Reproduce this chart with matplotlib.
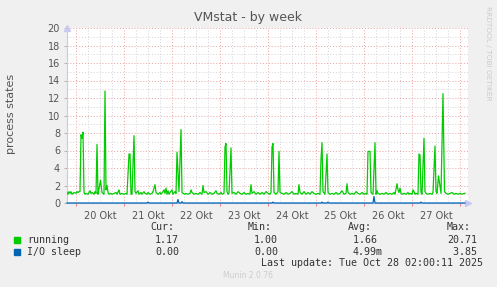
import matplotlib
matplotlib.use("Agg")
import matplotlib.pyplot as plt

# hours since 20 Okt 00:00
run_t = [-4.5, -4, -3.5, -3, -2.5, -2, -1, 0, 0.5, 1, 1.5, 2,
         2.5, 3, 3.5, 4, 4.5, 5, 6, 7, 7.5, 8, 9, 9.5, 10,
         10.5, 11, 11.5, 12.25, 13, 13.5, 14,
         14.5, 15, 15.5, 16, 16.5, 17.5, 18, 19, 20, 20.5, 21.5, 22, 23, 24, 25, 25.5,
         26.5, 27, 27.5, 28, 29, 29.5,
         30, 31, 31.5, 32.5, 33, 34, 34.5, 35.5, 36, 37, 38, 38.5,
         39.5, 40, 41, 42, 42.5, 43.5, 44, 44.5, 45, 45.5, 46, 46.5, 47, 48, 48.5, 49.5, 50,
         50.5, 51.5, 52.5, 53,
         53.5, 54.5, 55, 56, 57, 57.5, 58, 59, 60, 61, 62, 63,
         63.5, 64, 65, 66, 67, 68, 69, 70, 70.5, 71.5, 72.5, 73,
         74, 74.5, 75, 75.5, 76, 76.5, 77.5, 78,
         79, 80, 81, 82, 83, 84, 85, 86, 87, 87.5, 88, 89, 90, 91, 92, 93, 94, 95, 96, 97, 97.5,
         98, 98.5, 99, 100, 101, 101.5, 102,
         103, 104, 105, 106, 107, 108, 109, 110, 111, 111.5, 112, 113, 114, 115, 116, 117, 118,
         119, 120, 121, 122,
         122.5, 123, 123.5, 124.5, 125.5, 126,
         127, 128, 129, 130, 131, 132, 133, 134, 135, 135.5, 136, 137, 138, 139, 140, 141, 142,
         143, 144, 145, 145.5,
         146, 147, 147.5, 148.5, 149.5, 150,
         150.5, 151, 152, 153, 154, 155, 156, 157, 158, 159, 159.5, 160.5, 161, 161.5, 162, 162.5,
         163, 164, 165, 166, 166.5, 167, 168, 168.5, 169, 169.5, 170, 171,
         171.5, 172, 172.5, 173, 174, 174.5, 175, 176, 177, 178, 178.5, 179.5, 180, 180.5,
         181.25, 182.5, 183.5, 184.25,
         185, 186, 187, 188, 189, 190, 191, 192, 193, 194, 194.5]
run_v = [1.2, 1.0, 1.3, 1.1, 1.3, 1.0, 1.2, 1.1, 1.3, 1.2, 1.3, 1.3,
         7.8, 7.4, 8.1, 1.2, 1.0, 1.1, 1.0, 1.4, 1.1, 1.2, 1.0, 1.3, 1.1,
         6.7, 1.0, 1.6, 2.6, 1.2, 1.1, 1.0,
         12.8, 1.5, 2.0, 1.2, 1.0, 1.1, 1.0, 1.1, 1.2, 1.0, 1.5, 1.0, 1.1, 1.0, 1.1, 1.0,
         5.6, 5.6, 1.0, 1.0, 7.7, 1.3,
         1.1, 1.4, 1.0, 1.2, 1.0, 1.3, 1.1, 1.0, 1.2, 1.0, 1.1, 1.3,
         2.1, 1.2, 1.0, 1.2, 1.0, 1.3, 1.5, 1.1, 1.7, 1.0, 1.4, 1.0, 1.2, 1.5, 1.0, 1.3, 1.1,
         5.8, 1.3, 8.4, 1.2,
         1.1, 1.0, 1.1, 1.0, 1.1, 1.5, 1.2, 1.0, 1.1, 1.0, 1.2, 1.0,
         2.0, 1.2, 1.3, 1.0, 1.2, 1.0, 1.1, 1.4, 1.1, 1.0, 1.2, 1.0,
         1.1, 6.4, 6.8, 1.3, 1.0, 1.1, 6.3, 1.1,
         1.2, 1.0, 1.3, 1.1, 1.0, 1.2, 1.0, 1.1, 1.0, 2.1, 1.1, 1.3, 1.0, 1.2, 1.0, 1.2, 1.0, 1.3, 1.1, 1.0, 1.2,
         6.4, 6.8, 1.2, 1.0, 1.3, 5.9, 1.2,
         1.1, 1.0, 1.2, 1.0, 1.1, 1.3, 1.0, 1.1, 1.0, 2.1, 1.2, 1.0, 1.3, 1.0, 1.2, 1.0, 1.3,
         1.1, 1.0, 1.1, 1.0,
         5.0, 6.9, 1.3, 1.0, 5.6, 1.2,
         1.0, 1.1, 1.0, 1.2, 1.0, 1.1, 1.4, 1.0, 1.1, 2.2, 1.2, 1.0, 1.1, 1.0, 1.3, 1.1, 1.0,
         1.2, 1.0, 1.1, 1.0,
         5.9, 5.9, 1.2, 1.0, 6.9, 1.0,
         1.4, 1.1, 1.0, 1.1, 1.0, 1.2, 1.0, 1.1, 1.0, 1.2, 1.0, 2.2, 1.5, 1.2, 1.7, 1.1,
         1.0, 1.1, 1.0, 1.2, 1.0, 1.1, 1.0, 1.5, 1.3, 1.0, 1.1, 1.0,
         5.6, 5.5, 1.2, 1.0, 7.4, 1.3, 1.1, 1.0, 1.1, 1.0, 1.2, 6.5, 1.3, 1.1,
         3.1, 1.1, 12.5, 1.3,
         1.1, 1.0, 1.1, 1.2, 1.0, 1.1, 1.0, 1.1, 1.0, 1.1, 1.1]

io_t = [-4.5, 35.5, 36, 36.5, 50.5, 51, 51.5, 52.5, 53, 53.5, 98, 98.5, 99,
        122.5, 123, 123.5, 125.5, 126, 126.5, 148.5, 149, 149.5, 172, 172.5, 173, 194.5]
io_v = [0, 0, 0.1, 0, 0, 0.4, 0, 0, 0.15, 0, 0, 0.1, 0,
        0, 0.1, 0, 0, 0.1, 0, 0, 0.75, 0, 0, 0.1, 0, 0]

day_pos = [12, 36, 60, 84, 108, 132, 156, 180]
day_labels = ["20 Okt", "21 Okt", "22 Okt", "23 Okt", "24 Okt", "25 Okt", "26 Okt", "27 Okt"]

legend_names = ["running", "I/O sleep"]
legend_colors = ["#00CC00", "#0066B3"]
cur = ["1.17", "0.00"]
mins = ["1.00", "0.00"]
avgs = ["1.66 ", "4.99m"]
maxs = ["20.71", " 3.85"]

fig = plt.figure(figsize=(4.97, 2.87), dpi=100, facecolor="#F0F0F0")
ax = fig.add_axes([67 / 497, 84 / 287, 401 / 497, 175 / 287])
ax.set_facecolor("white")
ax.set_xlim(-4.5, 196)
ax.set_ylim(0, 20)

# grid
for h in range(-0, 197, 6):
    if h % 24 == 0:
        ax.axvline(h, color="#EBA0A0", ls=(0, (1, 2)), lw=0.7, zorder=1)
    else:
        ax.axvline(h, color="#D4D4D4", ls=(0, (1, 2)), lw=0.7, zorder=1)
for v in range(1, 21):
    if v % 2 == 0:
        ax.axhline(v, color="#EBA0A0", ls=(0, (1, 2)), lw=0.7, zorder=1)
    else:
        ax.axhline(v, color="#D4D4D4", ls=(0, (1, 2)), lw=0.7, zorder=1)

ax.plot(run_t, run_v, color=legend_colors[0], lw=0.9, zorder=3)
ax.plot(io_t, io_v, color=legend_colors[1], lw=0.9, zorder=4, clip_on=False)

ax.set_xticks(day_pos)
ax.set_xticklabels(day_labels)
ax.set_xticks([0, 24, 48, 72, 96, 120, 144, 168, 192], minor=True)
ax.set_yticks(range(0, 21, 2))
ax.tick_params(axis="x", length=0, pad=6, labelsize=7, labelcolor="#555555")
ax.tick_params(axis="x", which="minor", length=2, width=0.7, color="#E88080")
ax.tick_params(axis="y", length=2, width=0.6, color="#AAAAAA", pad=3, labelsize=7, labelcolor="#555555")
for s in ["top", "right"]:
    ax.spines[s].set_visible(False)
ax.spines["left"].set_color("#C8C8F0")
ax.spines["bottom"].set_color("#C8C8F0")
ax.spines["left"].set_linewidth(0.8)
ax.spines["bottom"].set_linewidth(0.8)
ax.plot([0], [1.0], marker="^", ms=4, color="#C8C8F0", transform=ax.transAxes, clip_on=False)
ax.plot([1.0], [0], marker=">", ms=4, color="#C8C8F0", transform=ax.transAxes, clip_on=False)

fig.text(248 / 497, 1 - 17 / 287, "VMstat - by week", ha="center", va="center", fontsize=9, color="#555555")
fig.text(11 / 497, 1 - 114 / 287, "process states", rotation=90, ha="center", va="center",
         fontsize=8, color="#555555")
fig.text(488 / 497, 1 - 53 / 287, "RRDTOOL / TOBI OETIKER", rotation=270, ha="center", va="center",
         fontsize=5.3, color="#CCCCCC")

mono = "DejaVu Sans Mono"
fs = 7.2
tc = "#333333"
for x, lab in [(150, "Cur:"), (248, "Min:"), (348, "Avg:"), (447, "Max:")]:
    fig.text(x / 497, 1 - 227 / 287, lab, family=mono, fontsize=fs, color=tc, va="center")
for i, name in enumerate(legend_names):
    y = 1 - (240 + 12 * i) / 287
    fig.patches.append(plt.Rectangle((14 / 497, y - 3 / 287), 6 / 497, 6 / 287,
                                     transform=fig.transFigure, color=legend_colors[i]))
    fig.text(27 / 497, y, name, family=mono, fontsize=fs, color=tc, va="center")
    fig.text(179 / 497, y, cur[i], family=mono, fontsize=fs, color=tc, va="center", ha="right")
    fig.text(278 / 497, y, mins[i], family=mono, fontsize=fs, color=tc, va="center", ha="right")
    fig.text(383 / 497, y, avgs[i], family=mono, fontsize=fs, color=tc, va="center", ha="right")
    fig.text(477 / 497, y, maxs[i], family=mono, fontsize=fs, color=tc, va="center", ha="right")
fig.text(483 / 497, 1 - 263 / 287, "Last update: Tue Oct 28 02:00:11 2025", family=mono,
         fontsize=fs, color=tc, va="center", ha="right")
fig.text(248 / 497, 1 - 276 / 287, "Munin 2.0.76", ha="center", va="center", fontsize=5.5, color="#CCCCCC")

fig.savefig("out.png", dpi=100, facecolor=fig.get_facecolor())
